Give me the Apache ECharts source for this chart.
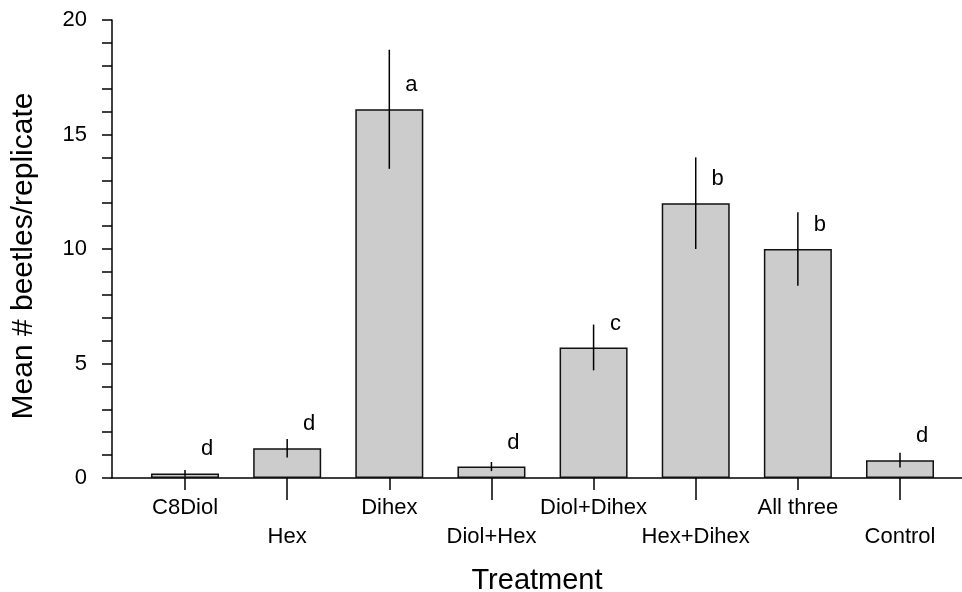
<!DOCTYPE html>
<html>
<head>
<meta charset="utf-8">
<script src="https://cdn.jsdelivr.net/npm/echarts@6/dist/echarts.min.js"></script>
<style>html,body{margin:0;padding:0;background:#fff}#c{width:962px;height:592px}</style>
</head>
<body>
<div id="c"></div>
<script>
const categories = ['C8Diol', 'Hex', 'Dihex', 'Diol+Hex', 'Diol+Dihex', 'Hex+Dihex', 'All three', 'Control'];
const means = [0.2, 1.3, 16.1, 0.5, 5.7, 12.0, 10.0, 0.78];
const errors = [0.15, 0.4, 2.6, 0.2, 1.0, 2.0, 1.6, 0.32];
const letters = ['d', 'd', 'a', 'd', 'c', 'b', 'b', 'd'];
const yTickValues = [0, 5, 10, 15, 20];

const FONT = 'Liberation Sans, Arial, Helvetica, sans-serif';
const positions = categories.map((_, i) => i + 1);
const oddPos = positions.filter((p) => p % 2 === 1);
const evenPos = positions.filter((p) => p % 2 === 0);

const chart = echarts.init(document.getElementById('c'), null, { renderer: 'canvas' });
const axisLineStyle = { color: '#000', width: 1.5 };
const xCommon = {
  type: 'value', min: 0.285, max: 8.607, position: 'bottom', gridIndex: 0,
  splitLine: { show: false },
  axisLine: { onZero: false, lineStyle: axisLineStyle },
};
chart.setOption({
  animation: false,
  backgroundColor: '#fff',
  textStyle: { fontFamily: FONT, color: '#000' },
  grid: { left: 112, right: 0, top: 20, bottom: 114, outerBoundsMode: 'none' },
  xAxis: [
    Object.assign({}, xCommon, {
      name: 'Treatment', nameLocation: 'middle', nameGap: 88,
      nameTextStyle: { fontSize: 29, fontFamily: FONT, color: '#000' },
      axisTick: { show: true, customValues: oddPos, length: 12, lineStyle: axisLineStyle },
      axisLabel: { customValues: oddPos, margin: 19, fontSize: 22, fontFamily: FONT, color: '#000',
        formatter: (v) => categories[Math.round(v) - 1] }
    }),
    Object.assign({}, xCommon, {
      axisLine: { show: false, onZero: false },
      axisTick: { show: true, customValues: evenPos, length: 22, lineStyle: axisLineStyle },
      axisLabel: { customValues: evenPos, margin: 48, fontSize: 22, fontFamily: FONT, color: '#000',
        formatter: (v) => categories[Math.round(v) - 1] }
    })
  ],
  yAxis: {
    type: 'value', min: 0, max: 20, interval: 5,
    name: 'Mean # beetles/replicate', nameLocation: 'middle', nameGap: 73,
    nameTextStyle: { fontSize: 30, fontFamily: FONT, color: '#000', padding: [0, 14, 0, 0] },
    axisLine: { show: true, onZero: false, lineStyle: axisLineStyle },
    axisTick: { show: true, length: 10, lineStyle: axisLineStyle },
    minorTick: { show: true, splitNumber: 5, length: 10, lineStyle: axisLineStyle },
    splitLine: { show: false },
    axisLabel: { fontSize: 22, fontFamily: FONT, color: '#000', margin: 25,
      formatter: (v) => (yTickValues.indexOf(v) >= 0 ? String(v) : '') }
  },
  series: [
    {
      type: 'bar', xAxisIndex: 0, yAxisIndex: 0, barWidth: 68,
      data: positions.map((p, i) => [p, means[i]]),
      itemStyle: { color: '#cccccc', borderColor: '#111', borderWidth: 1.5 },
      label: { show: true, position: 'top', distance: 13, offset: [22, 0],
        fontSize: 22, fontFamily: FONT, color: '#000',
        formatter: (p) => letters[p.dataIndex] },
      z: 2
    },
    {
      type: 'custom', xAxisIndex: 0, yAxisIndex: 0, z: 5,
      data: positions.map((p, i) => [p, means[i] - errors[i], means[i] + errors[i]]),
      renderItem: function (params, api) {
        const lo = api.coord([api.value(0), api.value(1)]);
        const hi = api.coord([api.value(0), api.value(2)]);
        return {
          type: 'line',
          shape: { x1: lo[0], y1: lo[1], x2: hi[0], y2: hi[1] },
          style: { stroke: '#000', lineWidth: 1.5 }
        };
      }
    }
  ]
});
</script>
</body>
</html>
